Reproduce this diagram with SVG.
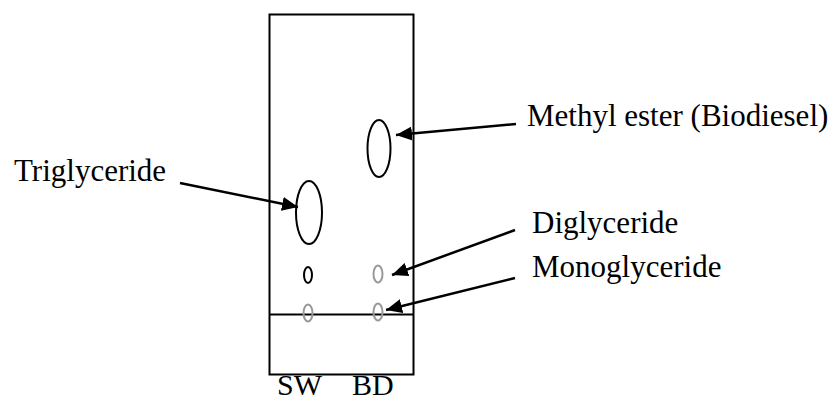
<svg xmlns="http://www.w3.org/2000/svg" width="836" height="402" viewBox="0 0 836 402">
<style>
text{font-family:"Liberation Serif","Times New Roman",serif;font-size:31px;fill:#000}
.axis{font-size:30px}
.plate{fill:none;stroke:#000;stroke-width:2}
.spot{fill:none;stroke:#000;stroke-width:2}
.faint{fill:none;stroke:#999;stroke-width:2}
.arr{fill:none;stroke:#000;stroke-width:2.5;marker-end:url(#ah)}
</style>
<defs>
<marker id="ah" markerUnits="userSpaceOnUse" markerWidth="18" markerHeight="14" refX="16" refY="7" orient="auto">
<path d="M0,0 L16,7 L0,14 Z" fill="#000"/>
</marker>
</defs>
<g id="plate">
<rect class="plate" x="269.5" y="14.5" width="144" height="360"/>
<line class="plate" x1="270" y1="314.5" x2="413" y2="314.5"/>
</g>
<g id="methyl-ester-spot"><ellipse class="spot" cx="379" cy="148.5" rx="11.5" ry="28.5"/></g>
<g id="triglyceride-spot"><ellipse class="spot" cx="309" cy="212.5" rx="13" ry="31.5"/></g>
<g id="sw-small-spot"><ellipse class="spot" cx="308" cy="275" rx="4" ry="8"/></g>
<g id="bd-diglyceride-spot"><ellipse class="faint" cx="378" cy="274" rx="4.5" ry="8.5"/></g>
<g id="sw-mono-spot"><ellipse class="faint" cx="308" cy="313" rx="4.5" ry="8.5"/></g>
<g id="bd-mono-spot"><ellipse class="faint" cx="378" cy="312" rx="4.5" ry="8.5"/></g>
<g id="connectors">
<line class="arr" x1="516" y1="124" x2="396" y2="135"/>
<line class="arr" x1="180" y1="183" x2="298" y2="207"/>
<line class="arr" x1="515" y1="230" x2="392" y2="275"/>
<line class="arr" x1="515" y1="278" x2="386" y2="310"/>
</g>
<g id="labels">
<text x="527" y="126">Methyl ester (Biodiesel)</text>
<text x="14" y="181">Triglyceride</text>
<text x="532" y="233">Diglyceride</text>
<text x="532" y="277">Monoglyceride</text>
<text class="axis" x="277" y="395">SW</text>
<text class="axis" x="352" y="395">BD</text>
</g>
</svg>
